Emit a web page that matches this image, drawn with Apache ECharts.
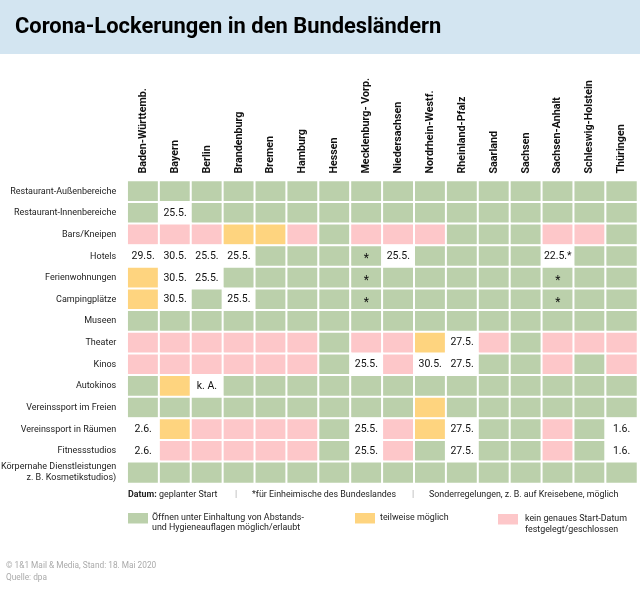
<!DOCTYPE html>
<html>
<head>
<meta charset="utf-8">
<style>
html, body { margin: 0; padding: 0; background: #fff; }
#chart { width: 640px; height: 591px; }
</style>
<script src="https://cdn.jsdelivr.net/npm/echarts@6/dist/echarts.min.js"></script>
</head>
<body>
<div id="chart"></div>
<script>
var states = ['Baden-Württemb.', 'Bayern', 'Berlin', 'Brandenburg', 'Bremen', 'Hamburg', 'Hessen', 'Mecklenburg- Vorp.',
    'Niedersachsen', 'Nordrhein-Westf.', 'Rheinland-Pfalz', 'Saarland', 'Sachsen', 'Sachsen-Anhalt', 'Schleswig-Holstein', 'Thüringen'];
var branches = ['Restaurant-Außenbereiche', 'Restaurant-Innenbereiche', 'Bars/Kneipen', 'Hotels', 'Ferienwohnungen', 'Campingplätze',
    'Museen', 'Theater', 'Kinos', 'Autokinos', 'Vereinssport im Freien', 'Vereinssport in Räumen', 'Fitnessstudios',
    'Körpernahe Dienstleistungen\nz. B. Kosmetikstudios)'];

// g = offen, o = teilweise, p = geschlossen, w = Datum (weiss)
var cellStatus = [
    'gggggggggggggggg',
    'gwgggggggggggggg',
    'pppoopgpppgggppg',
    'wwwwggggwggggwgg',
    'owwggggggggggggg',
    'owgwgggggggggggg',
    'gggggggggggggggg',
    'ppppppgppowpgppp',
    'ppppppgwpwwggpgp',
    'gowggggggggggggg',
    'gggggggggogggggg',
    'woppppgwpowggpgw',
    'wpppppgwpgwggpgw',
    'gggggggggggggggg'
];

// Zeile, Spalte, Text
var cellTexts = [
    [1, 1, '25.5.'],
    [3, 0, '29.5.'], [3, 1, '30.5.'], [3, 2, '25.5.'], [3, 3, '25.5.'], [3, 7, '*'], [3, 8, '25.5.'], [3, 13, '22.5.*'],
    [4, 1, '30.5.'], [4, 2, '25.5.'], [4, 7, '*'], [4, 13, '*'],
    [5, 1, '30.5.'], [5, 3, '25.5.'], [5, 7, '*'], [5, 13, '*'],
    [7, 10, '27.5.'],
    [8, 7, '25.5.'], [8, 9, '30.5.'], [8, 10, '27.5.'],
    [9, 2, 'k. A.'],
    [11, 0, '2.6.'], [11, 7, '25.5.'], [11, 10, '27.5.'], [11, 15, '1.6.'],
    [12, 0, '2.6.'], [12, 7, '25.5.'], [12, 10, '27.5.'], [12, 15, '1.6.']
];

var colors = { g: '#bbd0ab', o: '#fed47f', p: '#fdc7c9', w: '#ffffff' };
var FONT = 'Roboto';

function textAt(row, col) {
    for (var i = 0; i < cellTexts.length; i++) {
        if (cellTexts[i][0] === row && cellTexts[i][1] === col) return cellTexts[i][2];
    }
    return '';
}

var cells = [];
cellStatus.forEach(function (line, row) {
    line.split('').forEach(function (s, col) {
        cells.push({
            value: [col, row, 1],
            itemStyle: { color: colors[s] },
            label: textAt(row, col) === '*' ? { offset: [0, 3], fontSize: 12 } : {}
        });
    });
});

function txt(x, y, text, opt) {
    return {
        type: 'text', x: x, y: y,
        style: Object.assign({ text: text, fontFamily: FONT, fontSize: 8.9, fill: '#222', textVerticalAlign: 'middle' }, opt || {})
    };
}
function box(x, y, w, h, fill) {
    return { type: 'rect', shape: { x: x, y: y, width: w, height: h }, style: { fill: fill } };
}

var option = {
    animation: false,
    backgroundColor: '#fff',
    textStyle: { fontFamily: FONT },
    grid: { left: 127.2, right: 2.5, top: 180.5, height: 303, outerBoundsMode: 'none' },
    xAxis: {
        type: 'category',
        position: 'top',
        data: states,
        axisLine: { show: false },
        axisTick: { show: false },
        splitLine: { show: false },
        axisLabel: { interval: 0, rotate: -90, margin: 7, fontSize: 10.7, fontWeight: 'bold', color: '#111', fontFamily: FONT }
    },
    yAxis: {
        type: 'category',
        inverse: true,
        data: branches,
        axisLine: { show: false },
        axisTick: { show: false },
        splitLine: { show: false },
        axisLabel: { interval: 0, margin: 11, fontSize: 9, color: '#222', align: 'right', lineHeight: 11, fontFamily: FONT }
    },
    series: [{
        type: 'heatmap',
        data: cells,
        itemStyle: { borderColor: '#fff', borderWidth: 2 },
        label: {
            show: true,
            fontSize: 10.5,
            color: '#111',
            fontFamily: FONT,
            formatter: function (p) { return textAt(p.value[1], p.value[0]); }
        },
        emphasis: { disabled: true }
    }],
    graphic: [
        box(0, 0, 640, 54, '#d3e5f1'),
        txt(15, 28, 'Corona-Lockerungen in den Bundesländern', { fontSize: 21.9, fontWeight: 'bold', fill: '#000' }),

        txt(128, 494.5, 'Datum:', { fontWeight: 'bold' }),
        txt(159, 494.5, 'geplanter Start'),
        txt(235, 494.5, '|', { fill: '#aaa' }),
        txt(252, 494.5, '*für Einheimische des Bundeslandes'),
        txt(412, 494.5, '|', { fill: '#aaa' }),
        txt(429, 494.5, 'Sonderregelungen, z. B. auf Kreisebene, möglich'),

        box(128, 513, 20, 10.5, colors.g),
        txt(152, 517.3, 'Öffnen unter Einhaltung von Abstands-'),
        txt(152, 528, 'und Hygieneauflagen möglich/erlaubt'),
        box(355, 513, 20, 10.5, colors.o),
        txt(380, 518, 'teilweise möglich'),
        box(498, 514, 20, 10.5, colors.p),
        txt(525, 519, 'kein genaues Start-Datum'),
        txt(525, 530, 'festgelegt/geschlossen'),

        txt(6, 566, '© 1&1 Mail & Media, Stand: 18. Mai 2020', { fontSize: 8.3, fill: '#aaa' }),
        txt(6, 578, 'Quelle: dpa', { fontSize: 8.3, fill: '#aaa' })
    ]
};

echarts.init(document.getElementById('chart'), null, { renderer: 'canvas' }).setOption(option);
</script>
</body>
</html>
